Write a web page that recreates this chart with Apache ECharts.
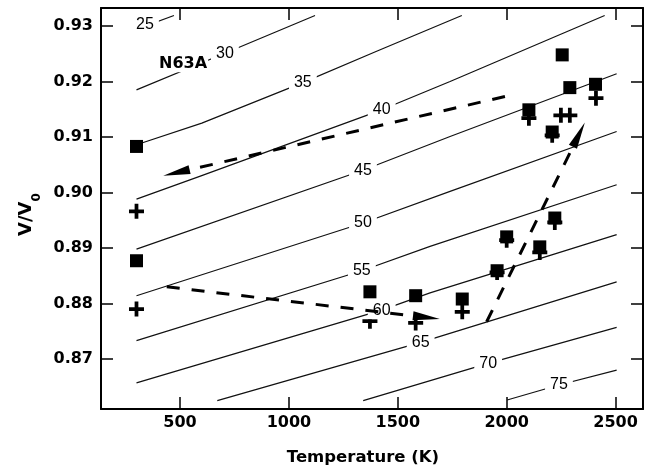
<!DOCTYPE html>
<html>
<head>
<meta charset="utf-8">
<script src="https://cdn.jsdelivr.net/npm/echarts@6/dist/echarts.min.js"></script>
<style>
  html, body { margin: 0; padding: 0; background: #fff; }
  #chart { width: 649px; height: 474px; }
</style>
</head>
<body>
<div id="chart"></div>
<script>
// Iso-pressure lines (GPa) in V/V0 – temperature space
const levels = [25, 30, 35, 40, 45, 50, 55, 60, 65, 70, 75];
const contourPaths = [
  [[300, 0.9294], [472, 0.9319]],
  [[300, 0.9185], [706, 0.9251], [1120, 0.9319]],
  [[300, 0.9086], [600, 0.9125], [1064, 0.9198], [1400, 0.9254], [1794, 0.9319]],
  [[300, 0.8988], [590, 0.9029], [1426, 0.9149], [1740, 0.9200], [2450, 0.9319]],
  [[300, 0.8898], [1340, 0.9040], [1740, 0.9101], [2505, 0.9214]],
  [[300, 0.8814], [1340, 0.8945], [1740, 0.9002], [2505, 0.9110]],
  [[300, 0.8733], [1335, 0.8859], [1648, 0.8903], [2505, 0.9014]],
  [[300, 0.8657], [1426, 0.8788], [1648, 0.8819], [2505, 0.8924]],
  [[671, 0.8625], [1605, 0.8730], [2505, 0.8839]],
  [[1341, 0.8625], [1915, 0.8692], [2505, 0.8757]],
  [[2002, 0.8626], [2240, 0.8653], [2505, 0.8680]]
];
const labelT = [339, 706, 1064, 1426, 1340, 1340, 1335, 1426, 1605, 1915, 2240];
const labelV = [0.9302, 0.9251, 0.9198, 0.9149, 0.9040, 0.8945, 0.8859, 0.8788, 0.8730, 0.8692, 0.8653];

// Measured points: filled squares and crosses
const squareT = [300, 300, 1372, 1582, 1796, 1956, 2000, 2152, 2221, 2102, 2209, 2255, 2290, 2408];
const squareV = [0.9083, 0.8877, 0.8821, 0.8814, 0.8808, 0.8859, 0.8920, 0.8902, 0.8954, 0.9149, 0.9109, 0.9248, 0.9189, 0.9195];
const plusT = [300, 300, 1372, 1582, 1796, 1956, 2000, 2152, 2221, 2102, 2209, 2249, 2290, 2410];
const plusV = [0.8966, 0.8790, 0.8768, 0.8765, 0.8785, 0.8856, 0.8914, 0.8892, 0.8946, 0.9134, 0.9103, 0.9139, 0.9139, 0.9170];

// Heating / cooling path arrows
const arrowFromT = [1992, 439, 1908];
const arrowFromV = [0.9173, 0.8830, 0.8767];
const arrowToT = [423, 1693, 2359];
const arrowToV = [0.9030, 0.8772, 0.9126];

const xTicks = [500, 1000, 1500, 2000, 2500];
const yTicks = [0.87, 0.88, 0.89, 0.90, 0.91, 0.92, 0.93];
const sampleName = 'N63A';
const sampleT = 514;
const sampleV = 0.9231;

const chart = echarts.init(document.getElementById('chart'), null, { renderer: 'canvas' });

const zip = (a, b) => a.map((v, i) => [v, b[i]]);

const FONT = 'DejaVu Sans';
const tickStyle = { show: true, inside: true, length: 12, lineStyle: { color: '#000', width: 1.5 } };
const lineStyleAxis = { show: true, lineStyle: { color: '#000', width: 2 } };

const contourSeries = contourPaths.map((path, i) => ({
  type: 'line',
  name: 'P' + levels[i],
  data: path,
  symbol: 'none',
  silent: true,
  z: 2,
  lineStyle: { color: '#111', width: 1.2 }
}));

function renderArrow(params, api) {
  const p0 = api.coord([api.value(0), api.value(1)]);
  const p1 = api.coord([api.value(2), api.value(3)]);
  const dx = p1[0] - p0[0], dy = p1[1] - p0[1];
  const len = Math.hypot(dx, dy);
  const ux = dx / len, uy = dy / len;
  const headLen = 27, half = 4.5;
  const bx = p1[0] - ux * headLen, by = p1[1] - uy * headLen;
  const nx = -uy, ny = ux;
  return {
    type: 'group',
    children: [
      {
        type: 'line',
        shape: { x1: p0[0], y1: p0[1], x2: bx + ux * 3, y2: by + uy * 3 },
        style: { stroke: '#000', lineWidth: 3, lineDash: [13, 12], fill: null }
      },
      {
        type: 'polygon',
        shape: { points: [[p1[0], p1[1]], [bx + nx * half, by + ny * half], [bx - nx * half, by - ny * half]] },
        style: { fill: '#000' }
      }
    ]
  };
}

const option = {
  animation: false,
  backgroundColor: '#fff',
  grid: { left: 101, right: 6, top: 8, bottom: 65 },
  xAxis: [
    {
      type: 'value', min: 137, max: 2626, position: 'bottom',
      axisLine: lineStyleAxis,
      axisTick: Object.assign({ customValues: xTicks }, tickStyle),
      axisLabel: {
        customValues: xTicks, color: '#000', fontFamily: FONT, fontWeight: 'bold', fontSize: 16, margin: 6,
        formatter: v => String(v)
      },
      splitLine: { show: false },
      name: 'Temperature (K)', nameLocation: 'middle', nameGap: 40,
      nameTextStyle: { color: '#000', fontFamily: FONT, fontWeight: 'bold', fontSize: 16.5, padding: [0, 18, 0, 0] }
    },
    {
      type: 'value', min: 137, max: 2626, position: 'top',
      axisLine: lineStyleAxis,
      axisTick: Object.assign({ customValues: xTicks }, tickStyle),
      axisLabel: { show: false },
      splitLine: { show: false }
    }
  ],
  yAxis: [
    {
      type: 'value', min: 0.86098, max: 0.93325, position: 'left',
      axisLine: lineStyleAxis,
      axisTick: Object.assign({ customValues: yTicks }, tickStyle),
      axisLabel: {
        customValues: yTicks, color: '#000', fontFamily: FONT, fontWeight: 'bold', fontSize: 16, margin: 8,
        formatter: v => v.toFixed(2)
      },
      splitLine: { show: false },
      name: '{v|V/V}{s|0}', nameLocation: 'middle', nameGap: 58, nameRotate: 90,
      nameTextStyle: {
        color: '#000', fontFamily: FONT, fontSize: 18, padding: [0, 12, 0, 0],
        rich: {
          v: { fontFamily: FONT, fontWeight: 'bold', fontSize: 18, color: '#000', lineHeight: 32, verticalAlign: 'middle' },
          s: { fontFamily: FONT, fontWeight: 'bold', fontSize: 12, color: '#000', lineHeight: 32, verticalAlign: 'bottom' }
        }
      }
    },
    {
      type: 'value', min: 0.86098, max: 0.93325, position: 'right',
      axisLine: lineStyleAxis,
      axisTick: Object.assign({ customValues: yTicks }, tickStyle),
      axisLabel: { show: false },
      splitLine: { show: false }
    }
  ],
  series: contourSeries.concat([
    {
      type: 'scatter',
      name: 'cross',
      data: zip(plusT, plusV),
      symbol: 'path://M0,3.75H3.75V0H6.25V3.75H10V6.25H6.25V10H3.75V6.25H0Z',
      symbolSize: 15,
      itemStyle: { color: '#000', opacity: 1 },
      z: 3
    },
    {
      type: 'scatter',
      name: 'levels',
      data: zip(labelT, labelV),
      symbolSize: 0,
      silent: true,
      z: 4,
      itemStyle: { opacity: 1 },
      label: {
        show: true, position: 'inside',
        formatter: p => String(levels[p.dataIndex]),
        color: '#000', fontFamily: 'Liberation Sans', fontSize: 16,
        backgroundColor: '#fff', padding: [1, 5]
      }
    },
    {
      type: 'scatter',
      name: 'square',
      data: zip(squareT, squareV),
      symbol: 'rect',
      symbolSize: 13,
      itemStyle: { color: '#000', opacity: 1 },
      z: 5
    },
    {
      type: 'custom',
      name: 'path',
      coordinateSystem: 'cartesian2d',
      renderItem: renderArrow,
      data: arrowFromT.map((t, i) => [t, arrowFromV[i], arrowToT[i], arrowToV[i]]),
      encode: { x: [0, 2], y: [1, 3] },
      z: 6,
      silent: true
    },
    {
      type: 'scatter',
      name: 'sample',
      data: [[sampleT, sampleV]],
      symbolSize: 0,
      silent: true,
      z: 7,
      itemStyle: { opacity: 1 },
      label: {
        show: true, position: 'inside', formatter: sampleName,
        color: '#000', fontFamily: FONT, fontWeight: 'bold', fontSize: 16,
        backgroundColor: '#fff', padding: [0, 1]
      }
    }
  ])
};

chart.setOption(option);
</script>
</body>
</html>
